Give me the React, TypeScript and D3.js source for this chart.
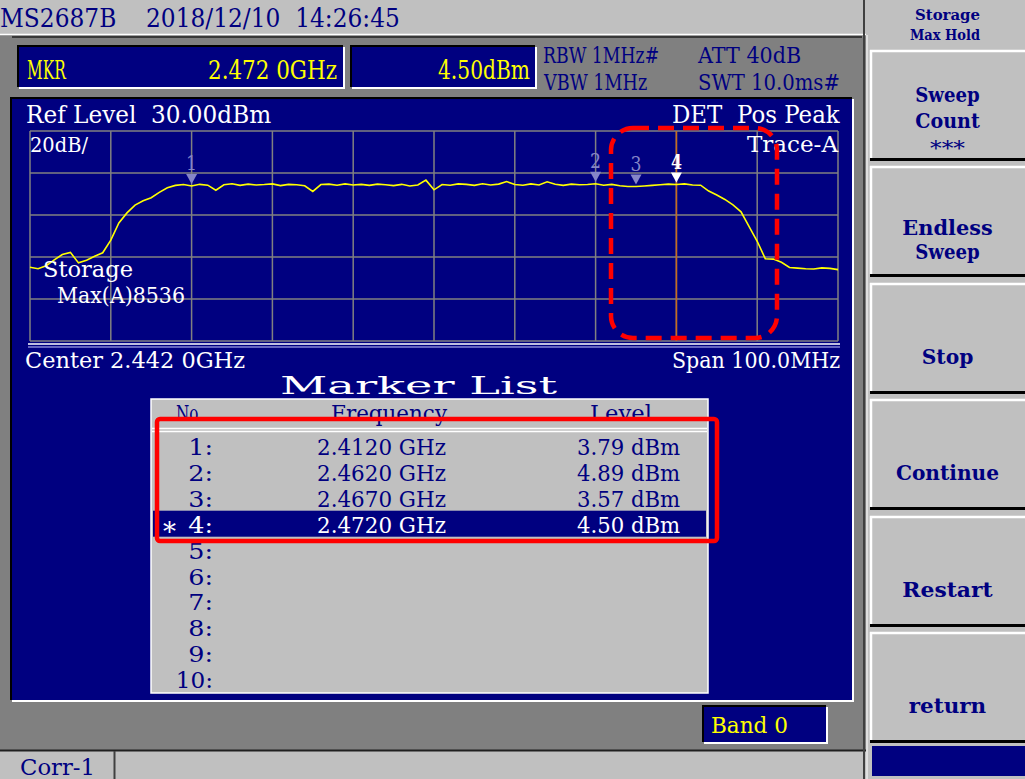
import React from "react";
import * as d3 from "d3";

const NAVY = "#000080";
const LIGHT = "#c0c0c0";
const DARK = "#808080";
const YELLOW = "#ffff00";
const FONT = "'DejaVu Serif', 'Liberation Serif', serif";
const CW = 12.9; // character cell width of the instrument font

// instrument settings
const centerMHz = 2442;
const spanMHz = 100;
const refLevel = 30;
const dbPerDiv = 20;
const xDivs = 10;
const yDivs = 5;

// trace A, max hold, one point per MHz from 2392 to 2492 MHz (dBm)
const traceLevels = [
  -34.9, -35.6, -34.2, -31.4, -28.8, -27.8, -32.8, -31.5, -29.6, -28.0,
  -22.0, -13.8, -9.0, -5.3, -3.2, -1.8, 0.8, 3.0, 4.1, 4.5,
  3.79, 4.6, 4.2, 1.8, 4.4, 4.9, 4.1, 4.7, 4.3, 4.5,
  4.8, 4.0, 4.6, 4.4, 3.9, 1.2, 4.5, 4.7, 4.2, 4.8,
  4.3, 4.6, 4.1, 4.7, 4.4, 4.0, 4.6, 3.8, 4.3, 6.6,
  2.0, 4.5, 4.2, 4.8, 4.6, 4.1, 4.9, 4.3, 4.7, 5.9,
  4.5, 4.2, 4.8, 4.3, 5.8, 4.6, 4.1, 4.7, 4.4, 4.5,
  4.89, 4.2, 4.6, 3.9, 3.6, 3.57, 3.8, 4.1, 4.4, 4.7,
  4.5, 4.8, 4.3, 4.2, 1.4, -0.5, -2.6, -5.2, -8.5, -15.5,
  -22.5, -30.8, -31.0, -32.5, -35.0, -35.3, -35.6, -35.7, -35.2, -35.4,
  -36.0,
];

const markerNos = [1, 2, 3, 4];
const markerFreqs = [2.412, 2.462, 2.467, 2.472]; // GHz
const markerLevels = [3.79, 4.89, 3.57, 4.5]; // dBm
const activeMarker = 4;
const listSlots = [1, 2, 3, 4, 5, 6, 7, 8, 9, 10];

const softKeys = [
  ["Sweep", "Count", "***"],
  ["Endless", "Sweep"],
  ["Stop"],
  ["Continue"],
  ["Restart"],
  ["return"],
];

type TP = {
  x: number;
  y: number;
  s: string;
  size?: number;
  fill?: string;
  bold?: boolean;
  w?: number;
  cw?: number;
  adj?: string;
  anchor?: string;
};

const Txt = ({ x, y, s, size = 23, fill = "#fff", bold = false, w, cw = CW, adj = "spacingAndGlyphs", anchor = "start" }: TP) => (
  <text
    x={x}
    y={y}
    fontFamily={FONT}
    fontSize={size}
    fontWeight={bold ? "bold" : "normal"}
    fill={fill}
    textLength={w ?? s.length * cw}
    lengthAdjust={adj}
    textAnchor={anchor}
    style={{ whiteSpace: "pre" }}
  >
    {s}
  </text>
);

const Sunken = ({ x, y, w, h, fill }: { x: number; y: number; w: number; h: number; fill: string }) => (
  <g>
    <rect x={x} y={y} width={w} height={h} fill={fill} />
    <path d={`M${x - 1},${y + h} V${y - 1} H${x + w}`} stroke="#000" strokeWidth={2} fill="none" />
    <path d={`M${x},${y + h + 1} H${x + w + 1} V${y}`} stroke="#fff" strokeWidth={2} fill="none" />
  </g>
);

export default function App() {
  const startMHz = centerMHz - spanMHz / 2;
  const stopMHz = centerMHz + spanMHz / 2;
  const bottomLevel = refLevel - dbPerDiv * yDivs;

  const x = d3.scaleLinear().domain([startMHz, stopMHz]).range([30, 838]);
  const y = d3.scaleLinear().domain([bottomLevel, refLevel]).range([341, 131]);

  const step = spanMHz / (traceLevels.length - 1);
  const line = d3
    .line<number>()
    .x((_, i) => x(startMHz + i * step))
    .y((d) => y(d));

  const vGrid = d3.range(xDivs + 1).map((i) => x(startMHz + (i * spanMHz) / xDivs));
  const hGrid = d3.range(yDivs + 1).map((j) => y(refLevel - j * dbPerDiv));

  const keyTops = [50, 166, 283, 399, 516, 632];
  const lineOffsets: Record<number, number[]> = { 1: [81], 2: [69, 93], 3: [52, 78, 105] };

  const rowY = (k: number) => 455 + (k - 1) * 25.9;
  const actFreq = markerFreqs[markerNos.indexOf(activeMarker)];
  const actLevel = markerLevels[markerNos.indexOf(activeMarker)];

  return (
    <svg width={1025} height={779} style={{ position: "absolute", left: 0, top: 0, background: DARK }}>
      <rect x={0} y={0} width={1025} height={779} fill={DARK} />

      {/* title bar */}
      <rect x={0} y={0} width={866} height={34} fill={LIGHT} />
      <line x1={0} x2={866} y1={34.5} y2={34.5} stroke="#fff" strokeWidth={1.5} />
      <line x1={12} x2={862} y1={37} y2={37} stroke="#202020" strokeWidth={1.5} />
      <Txt x={0} y={27} s={"MS2687B    2018/12/10  14:26:45"} size={26} fill={NAVY} />

      {/* marker readout */}
      <Sunken x={19} y={47} w={324} h={40} fill={NAVY} />
      <Sunken x={352} y={47} w={183} h={40} fill={NAVY} />
      <Txt x={27} y={79} s="MKR" size={26} fill={YELLOW} />
      <Txt x={208} y={79} s={`${actFreq.toFixed(3)} 0GHz`} size={26} fill={YELLOW} />
      <Txt x={438} y={79} s={`${actLevel.toFixed(2)}dBm`} size={26} fill={YELLOW} w={92} />
      <Txt x={543} y={63} s="RBW 1MHz#" size={22} fill={NAVY} />
      <Txt x={544} y={90} s="VBW 1MHz" size={22} fill={NAVY} />
      <Txt x={698} y={63} s="ATT 40dB" size={22} fill={NAVY} />
      <Txt x={698} y={90} s="SWT 10.0ms#" size={22} fill={NAVY} />

      {/* display area */}
      <Sunken x={12} y={99} w={840} h={601} fill={NAVY} />
      <Txt x={26} y={123} s={"Ref Level  30.00dBm"} size={24} />
      <Txt x={672} y={123} s={"DET  Pos Peak"} size={24} />

      {vGrid.map((gx, i) => (
        <line key={`v${i}`} x1={gx} x2={gx} y1={131} y2={341} stroke={DARK} strokeWidth={1.5} />
      ))}
      {hGrid.map((gy, j) => (
        <line key={`h${j}`} x1={30} x2={838} y1={gy} y2={gy} stroke={DARK} strokeWidth={1.5} />
      ))}
      <line x1={28} x2={840} y1={344} y2={344} stroke="#fff" strokeWidth={1.5} />
      <line x1={28} x2={840} y1={347} y2={347} stroke="#c8c8ff" strokeWidth={1} />

      <Txt x={30} y={152} s="20dB/" size={20} w={58} />
      <Txt x={747} y={152} s="Trace-A" size={23} w={91} />

      {/* active marker line */}
      <line x1={x(actFreq * 1000)} x2={x(actFreq * 1000)} y1={131} y2={341} stroke="#c86a1e" strokeWidth={1.5} />

      <path d={line(traceLevels) ?? ""} fill="none" stroke={YELLOW} strokeWidth={1.6} />

      {markerNos.map((n, i) => {
        const mx = x(markerFreqs[i] * 1000);
        const my = y(markerLevels[i]) - 2;
        const c = n === activeMarker ? "#fff" : "#8585c8";
        return (
          <g key={`m${n}`}>
            <path d={`M${mx - 5.5},${my - 10} L${mx + 5.5},${my - 10} L${mx},${my} Z`} fill={c} />
            <Txt x={mx} y={my - 14} s={String(n)} size={20} fill={c} bold={n === activeMarker} w={11} anchor="middle" />
          </g>
        );
      })}

      <Txt x={43} y={277} s="Storage" size={23} w={90} />
      <Txt x={57} y={303} s="Max(A)8536" size={23} w={128} />
      <Txt x={25} y={368} s="Center 2.442 0GHz" size={23} w={220} />
      <Txt x={672} y={368} s="Span 100.0MHz" size={23} w={168} />

      {/* marker list */}
      <Txt x={280} y={394} s="Marker List" size={25} w={277} />
      <rect x={151} y={399} width={557} height={294} fill={LIGHT} stroke="#fff" strokeWidth={1.5} />
      <Txt x={176} y={421} s="No." size={23} fill={NAVY} w={27} />
      <Txt x={331} y={421} s="Frequency" size={23} fill={NAVY} w={116} />
      <Txt x={590} y={421} s="Level" size={23} fill={NAVY} w={62} />
      <line x1={152} x2={707} y1={428.5} y2={428.5} stroke="#fff" strokeWidth={1.5} />
      <line x1={152} x2={707} y1={431.5} y2={431.5} stroke="#fff" strokeWidth={1.5} />
      <rect x={153} y={rowY(activeMarker) - 22} width={553} height={26} fill={NAVY} />
      {listSlots.map((k) => {
        const idx = markerNos.indexOf(k);
        const c = k === activeMarker ? "#fff" : NAVY;
        const lab = `${k}:`;
        return (
          <g key={`r${k}`}>
            {k === activeMarker && <Txt x={163} y={rowY(k) + 8} s="*" size={26} fill="#fff" w={13} />}
            <Txt x={213 - lab.length * 12.4} y={rowY(k)} s={lab} size={23} fill={c} cw={12.4} />
            {idx >= 0 && (
              <>
                <Txt x={317} y={rowY(k)} s={`${markerFreqs[idx].toFixed(4)} GHz`} size={23} fill={c} />
                <Txt x={577} y={rowY(k)} s={`${markerLevels[idx].toFixed(2)} dBm`} size={23} fill={c} />
              </>
            )}
          </g>
        );
      })}

      {/* band indicator */}
      <Sunken x={704} y={707} w={122} h={35} fill={NAVY} />
      <Txt x={711} y={733} s="Band 0" size={22} fill={YELLOW} w={77} />

      {/* status bar */}
      <rect x={0} y={751} width={866} height={28} fill={LIGHT} />
      <line x1={0} x2={866} y1={750.5} y2={750.5} stroke="#202020" strokeWidth={2} />
      <line x1={114.5} x2={114.5} y1={751} y2={779} stroke="#404040" strokeWidth={2} />
      <Txt x={20} y={775} s="Corr-1" size={23} fill={NAVY} w={75} />

      {/* soft key panel */}
      <rect x={866} y={0} width={159} height={779} fill={LIGHT} />
      <line x1={864} x2={864} y1={0} y2={779} stroke="#404040" strokeWidth={2} />
      <line x1={867} x2={867} y1={35} y2={779} stroke="#fff" strokeWidth={1} />
      <Txt x={915} y={20} s="Storage" size={15} fill={NAVY} bold w={65} />
      <Txt x={910} y={40} s="Max Hold" size={15} fill={NAVY} bold w={70} />
      {softKeys.map((labels, i) => {
        const top = keyTops[i];
        const offs = lineOffsets[labels.length];
        return (
          <g key={`k${i}`}>
            <rect x={870} y={top} width={155} height={108} fill={LIGHT} />
            <line x1={870} x2={1025} y1={top + 1} y2={top + 1} stroke="#fff" strokeWidth={2.5} />
            <line x1={871} x2={871} y1={top} y2={top + 108} stroke="#fff" strokeWidth={2.5} />
            <line x1={870} x2={1025} y1={top + 109.5} y2={top + 109.5} stroke="#000" strokeWidth={3} />
            {labels.map((s, j) =>
              s === "***" ? (
                <Txt key={j} x={947.5} y={top + offs[j]} s={s} size={20} fill={NAVY} w={35} anchor="middle" />
              ) : (
                <Txt key={j} x={947.5} y={top + offs[j]} s={s} size={21} fill={NAVY} bold anchor="middle" />
              )
            )}
          </g>
        );
      })}
      <rect x={872} y={746} width={153} height={30} fill={NAVY} />

      {/* highlights */}
      <rect x={611} y={128} width={166} height={210} rx={22} fill="none" stroke="#ff0000" strokeWidth={4.5} strokeDasharray="16 9" />
      <rect x={157} y={419} width={560} height={122} rx={3} fill="none" stroke="#ff0000" strokeWidth={4.5} />
    </svg>
  );
}
